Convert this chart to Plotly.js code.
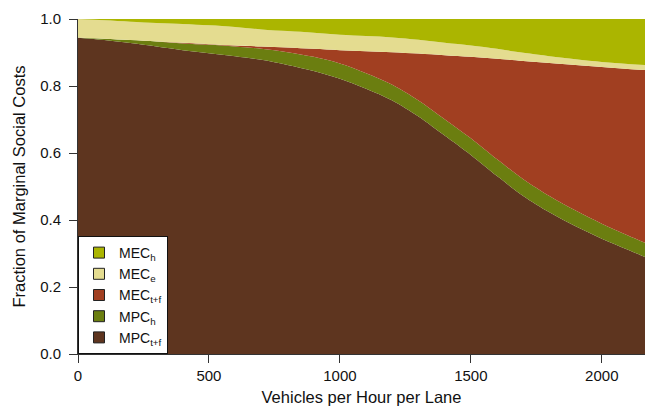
<!DOCTYPE html>
<html>
<head>
<meta charset="utf-8">
<script src="https://cdn.plot.ly/plotly-3.0.1.min.js"></script>
<style>
  html, body { margin: 0; padding: 0; background: #ffffff; }
  #chart { width: 645px; height: 407px; }
</style>
</head>
<body>
<div id="chart"></div>
<script>
// Vehicles per hour per lane
const vehicles = [0, 100, 200, 300, 400, 500, 600, 700, 800, 900, 1000, 1100,
                  1200, 1300, 1400, 1500, 1600, 1700, 1800, 1900, 2000, 2100, 2200];

// Fractions of marginal social cost (stack from bottom to top)
const mpcTF = [0.944, 0.937, 0.928, 0.918, 0.907, 0.898, 0.889, 0.878, 0.863, 0.845, 0.822, 0.792,
               0.757, 0.709, 0.652, 0.594, 0.531, 0.472, 0.423, 0.381, 0.344, 0.311, 0.278];
const mpcH  = [0.001, 0.004, 0.009, 0.015, 0.020, 0.025, 0.029, 0.033, 0.038, 0.042, 0.045, 0.046,
               0.047, 0.048, 0.049, 0.050, 0.050, 0.050, 0.049, 0.047, 0.045, 0.043, 0.042];
const mecTF = [0.000, 0.000, 0.000, 0.000, 0.002, 0.002, 0.003, 0.007, 0.014, 0.024, 0.040, 0.066,
               0.097, 0.140, 0.191, 0.243, 0.300, 0.353, 0.397, 0.435, 0.468, 0.497, 0.526];
const mecE  = [0.055, 0.055, 0.055, 0.055, 0.056, 0.056, 0.055, 0.051, 0.049, 0.048, 0.046, 0.045,
               0.044, 0.041, 0.037, 0.034, 0.030, 0.024, 0.020, 0.017, 0.015, 0.015, 0.015];
const mecH  = [0.000, 0.004, 0.008, 0.012, 0.015, 0.019, 0.024, 0.031, 0.036, 0.041, 0.047, 0.051,
               0.055, 0.062, 0.071, 0.079, 0.089, 0.101, 0.111, 0.120, 0.128, 0.134, 0.139];

const xTicks = [0, 500, 1000, 1500, 2000];
const yTicks = [0, 0.2, 0.4, 0.6, 0.8, 1.0];
const yTickText = ['0.0', '0.2', '0.4', '0.6', '0.8', '1.0'];

const series = [
  { name: 'MPC<sub>t+f</sub>', y: mpcTF, color: '#5e351f' },
  { name: 'MPC<sub>h</sub>',   y: mpcH,  color: '#6b7e10' },
  { name: 'MEC<sub>t+f</sub>', y: mecTF, color: '#a13f21' },
  { name: 'MEC<sub>e</sub>',   y: mecE,  color: '#e4dc90' },
  { name: 'MEC<sub>h</sub>',   y: mecH,  color: '#abb500' }
];

const traces = [];
series.forEach(s => {
  traces.push({
    x: vehicles, y: s.y, name: s.name,
    type: 'scatter', mode: 'lines', stackgroup: 'one',
    line: { width: 0, color: s.color, shape: 'spline', smoothing: 0.9 }, fillcolor: s.color,
    showlegend: false, hoverinfo: 'skip'
  });
});
// Legend entries (top to bottom as in the reference)
series.slice().reverse().forEach(s => {
  traces.push({
    x: [null], y: [null], name: s.name, type: 'scatter', mode: 'markers',
    marker: { symbol: 'square', size: 11, color: s.color, line: { color: '#222', width: 1 } },
    showlegend: true, hoverinfo: 'skip'
  });
});

const font = 'Liberation Sans, Arial, Helvetica, sans-serif';

const layout = {
  width: 645, height: 407,
  margin: { l: 78, r: 0, t: 19, b: 53 },
  paper_bgcolor: '#ffffff', plot_bgcolor: '#ffffff',
  font: { family: font, color: '#111', size: 15 },
  showlegend: true,
  legend: {
    x: 0, y: 0, xanchor: 'left', yanchor: 'bottom',
    bgcolor: '#ffffff', bordercolor: '#111', borderwidth: 1,
    traceorder: 'normal', font: { family: font, size: 14, color: '#111' },
    tracegroupgap: 0, entrywidth: 58, entrywidthmode: 'pixels'
  },
  xaxis: {
    range: [0, 2165], tickvals: xTicks, ticktext: xTicks.map(String),
    ticks: 'outside', ticklen: 8, tickcolor: '#333', tickwidth: 1,
    showline: true, linecolor: '#333', linewidth: 1,
    showgrid: false, zeroline: false,
    tickfont: { family: font, size: 15, color: '#111' },
    title: { text: 'Vehicles per Hour per Lane', font: { family: font, size: 16.5, color: '#111' }, standoff: 8 }
  },
  yaxis: {
    range: [0, 1], tickvals: yTicks, ticktext: yTickText,
    ticks: 'outside', ticklen: 8, tickcolor: '#333', tickwidth: 1,
    showline: true, linecolor: '#333', linewidth: 1,
    showgrid: false, zeroline: false, ticklabelstandoff: 5,
    tickfont: { family: font, size: 15, color: '#111' },
    title: { text: 'Fraction of Marginal Social Costs', font: { family: font, size: 16.5, color: '#111' }, standoff: 10 }
  }
};

Plotly.newPlot('chart', traces, layout, { displayModeBar: false, staticPlot: true });
</script>
</body>
</html>
